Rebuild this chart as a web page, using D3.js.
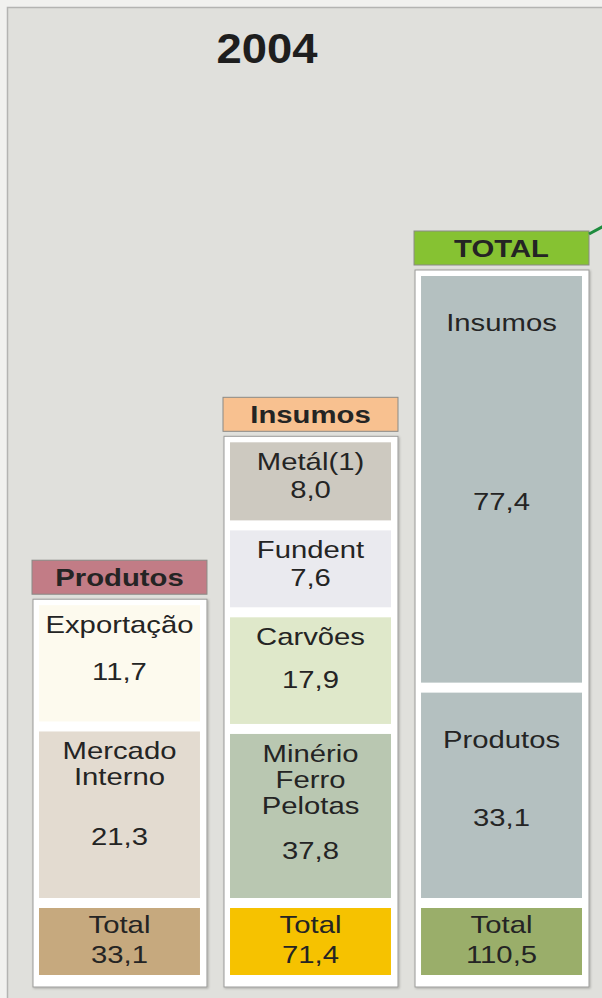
<!DOCTYPE html>
<html>
<head>
<meta charset="utf-8">
<script src="https://cdn.jsdelivr.net/npm/d3@7"></script>
<style>
  html, body { margin: 0; padding: 0; background: #f1f1ef; }
  svg { display: block; font-family: "Liberation Sans", Arial, sans-serif; }
</style>
</head>
<body>
<div id="chart"></div>
<script>
// data
const title = '2004';
const columns = ['Produtos', 'Insumos', 'TOTAL'];
const columnTotals = [33.1, 71.4, 110.5];
const produtosLabels = [['Exportação'], ['Mercado', 'Interno']];
const produtosValues = [11.7, 21.3];
const insumosLabels = [['Metál(1)'], ['Fundent'], ['Carvões'], ['Minério', 'Ferro', 'Pelotas']];
const insumosValues = [8.0, 7.6, 17.9, 37.8];
const totalLabels = [['Insumos'], ['Produtos']];
const totalValues = [77.4, 33.1];
const totalWord = 'Total';

// styles
const headerColors = ['#c27c86', '#f8c190', '#86c232'];
const segColors = [
    ['#fdfaee', '#e3dbd0'],
    ['#cdc9c0', '#eaeaef', '#dfe8ca', '#b9c7b1'],
    ['#b4c0c0', '#b4c0c0']
];
const totalColors = ['#c6a97e', '#f6c200', '#9aae6a'];
const labelTop = [28, 28, 55];

const width = 602, height = 998;
const bottom = 987;
const fmt = d3.formatLocale({decimal: ',', thousands: '.', grouping: [3], currency: ['', '']}).format('.1f');
const sx = 1.22;

const cols = columns.map((name, i) => ({
    name,
    total: columnTotals[i],
    labels: [produtosLabels, insumosLabels, totalLabels][i],
    values: [produtosValues, insumosValues, totalValues][i],
    i
}));

const svg = d3.select('#chart').append('svg')
    .attr('width', width)
    .attr('height', height);

const defs = svg.append('defs');
const shadow = defs.append('filter').attr('id', 'shadow')
    .attr('x', '-10%').attr('y', '-10%').attr('width', '120%').attr('height', '120%');
shadow.append('feDropShadow')
    .attr('dx', 1).attr('dy', 1).attr('stdDeviation', 1.2)
    .attr('flood-color', '#000').attr('flood-opacity', 0.25);

// frame
svg.append('rect')
    .attr('x', 7.5).attr('y', 7.5)
    .attr('width', width + 10).attr('height', height + 10)
    .attr('fill', '#e0e0dc')
    .attr('stroke', '#b4b4b2')
    .attr('stroke-width', 1.5);

svg.append('text')
    .attr('transform', `translate(267,63) scale(1.08,1)`)
    .attr('text-anchor', 'middle')
    .attr('font-size', 42)
    .attr('font-weight', 'bold')
    .attr('fill', '#1e1e1e')
    .text(title);

// scales
const x = d3.scaleBand()
    .domain(columns)
    .range([32, 589])
    .paddingInner(0.084);
const yTop = d3.scaleLinear()
    .domain([0, d3.max(columnTotals)])
    .range([bottom - 247, bottom - 717]);

const pad = 6, inset = 7, gap = 10, totalH = 67, minH = 55;

function addText(g, str, cx, y, opts = {}) {
    g.append('text')
        .attr('transform', `translate(${cx},${y}) scale(${sx},1)`)
        .attr('text-anchor', 'middle')
        .attr('font-size', opts.size || 24)
        .attr('font-weight', opts.bold ? 'bold' : 'normal')
        .attr('fill', '#242424')
        .text(str);
}

cols.forEach(c => {
    const g = svg.append('g');
    const x0 = x(c.name), bw = x.bandwidth(), cx = x0 + bw / 2;
    const top = yTop(c.total);

    // header
    g.append('rect')
        .attr('x', x0).attr('y', top - 39)
        .attr('width', bw).attr('height', 34)
        .attr('fill', headerColors[c.i])
        .attr('stroke', '#8a8a86')
        .attr('stroke-width', 1);
    addText(g, c.name, cx, top - 13, {size: 24, bold: true});

    // container
    g.append('rect')
        .attr('x', x0 + 1).attr('y', top)
        .attr('width', bw - 1).attr('height', bottom - top)
        .attr('fill', '#ffffff')
        .attr('stroke', '#9c9c9a')
        .attr('stroke-width', 1)
        .attr('filter', 'url(#shadow)');

    // segments
    const n = c.values.length;
    const totalTop = bottom - 12 - totalH;
    const avail = (totalTop - gap) - (top + pad) - gap * (n - 1);
    const h = d3.scaleLinear()
        .domain([0, d3.sum(c.values)])
        .range([0, avail - n * minH]);
    let yy = top + pad;
    c.values.forEach((v, j) => {
        const sh = minH + h(v);
        g.append('rect')
            .attr('x', x0 + inset).attr('y', yy)
            .attr('width', bw - 2 * inset).attr('height', sh)
            .attr('fill', segColors[c.i][j]);
        let ly = yy + labelTop[c.i];
        c.labels[j].forEach((line, k) => {
            addText(g, line, cx, ly + k * 26);
        });
        const last = ly + (c.labels[j].length - 1) * 26;
        addText(g, fmt(v), cx, (last + yy + sh) / 2 + 3);
        yy += sh + gap;
    });

    // total box
    g.append('rect')
        .attr('x', x0 + inset).attr('y', totalTop)
        .attr('width', bw - 2 * inset).attr('height', totalH)
        .attr('fill', totalColors[c.i]);
    addText(g, totalWord, cx, totalTop + 25);
    addText(g, fmt(c.total), cx, totalTop + 55);
});

// connector towards the next panel
const hx = x(columns[2]) + x.bandwidth();
const hy = yTop(d3.max(columnTotals)) - 39;
svg.append('path')
    .attr('d', d3.line()([[hx, hy + 3], [width + 2, hy - 5]]))
    .attr('fill', 'none')
    .attr('stroke', '#1e8c3e')
    .attr('stroke-width', 3);
</script>
</body>
</html>
